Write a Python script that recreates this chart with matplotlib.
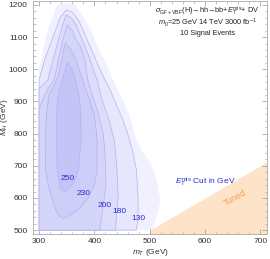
import numpy as np
import matplotlib.pyplot as plt
from matplotlib.ticker import MultipleLocator

plt.rcParams['font.family'] = ['Liberation Sans', 'DejaVu Sans']
plt.rcParams['mathtext.fontset'] = 'custom'
plt.rcParams['mathtext.rm'] = 'Liberation Sans'
plt.rcParams['mathtext.it'] = 'Liberation Sans:italic'
plt.rcParams['mathtext.bf'] = 'Liberation Sans:bold'

# region boundaries (m_T, M_H) in GeV, outermost first
edge_x = [333, 349, 365, 383, 396, 405, 416, 434, 452, 463, 474, 485, 501, 510, 515, 519, 515, 510, 505, 300, 300, 314, 324]
edge_y = [1200, 1206, 1200, 1153, 1113, 1069, 1035, 967, 900, 858, 789, 749, 708, 671, 634, 593, 556, 531, 500, 500, 998, 1113, 1160]

c130_x = [349, 360, 372, 380, 390, 400, 410, 419, 430, 436, 450, 462, 470, 476, 479, 479, 476, 300, 300, 310, 325, 338]
c130_y = [1184, 1178, 1150, 1120, 1080, 1040, 1000, 967, 930, 904, 850, 790, 740, 687, 600, 537, 500, 500, 967, 1029, 1100, 1160]

c180_x = [349, 358, 367, 378, 390, 398, 405, 414, 425, 436, 441, 443, 441, 438, 300, 300, 316, 325, 335, 343]
c180_y = [1169, 1160, 1138, 1091, 1040, 1000, 967, 904, 850, 780, 687, 600, 562, 500, 500, 940, 967, 1029, 1091, 1140]

c200_x = [351, 360, 367, 375, 383, 388, 396, 405, 416, 420, 421, 416, 410, 300, 300, 305, 316, 327, 335, 343]
c200_y = [1138, 1120, 1091, 1070, 1029, 967, 920, 873, 800, 720, 640, 580, 500, 500, 873, 900, 940, 967, 1029, 1091]

c230_x = [347, 358, 367, 374, 382, 392, 400, 405, 405, 400, 390, 375, 362, 350, 343, 335, 326, 318, 312, 311, 314, 318, 327, 334, 340]
c230_y = [1082, 1060, 1029, 990, 950, 900, 860, 780, 687, 640, 603, 570, 553, 540, 537, 545, 580, 630, 680, 780, 873, 920, 950, 975, 1020]

c250_x = [351, 360, 365, 372, 375, 376, 371, 362, 347, 338, 333, 331, 332, 336, 342]
c250_y = [1020, 1000, 967, 920, 873, 780, 687, 645, 618, 630, 687, 780, 873, 930, 967]

levels = ['130', '180', '200', '230', '250']
label_x = [479, 445, 419, 380, 352]
label_y = [537, 559, 578, 615, 659]

tuned_x = np.array([500, 720])

fig = plt.figure(figsize=(2.7, 2.59), dpi=100)
ax = fig.add_axes([0.1222, 0.0965, 0.8667, 0.8995])

fills = ['#f0f0fe', '#e6e6fc', '#dddcfb', '#d5d5fa', '#cdcdf8', '#c4c4f7']
polys = [(edge_x, edge_y), (c130_x, c130_y), (c180_x, c180_y), (c200_x, c200_y), (c230_x, c230_y), (c250_x, c250_y)]
for i, (px, py) in enumerate(polys):
    ax.fill(px, py, color=fills[i], lw=0, zorder=1 + i)
    if i > 0:
        ax.fill(px, py, facecolor='none', edgecolor='#b2b2f0', lw=0.5, zorder=1 + i)

for t, lx, ly in zip(levels, label_x, label_y):
    ax.text(lx, ly, t, color='#2a2ad0', fontsize=6, ha='center', va='center', zorder=10)

# tuned region below M_H = m_T
ax.fill_between(tuned_x, 480, tuned_x, color='#fde4c8', lw=0, zorder=1)
ax.text(655, 600, 'Tuned', color='#f0a050', fontsize=6.2, rotation=29, ha='center', va='center')
ax.text(600, 649, r'$E_T^{\rm mis}$ Cut in GeV', color='#2a2ad0', fontsize=6, ha='center', va='center')

ax.text(0.744, 0.955, r'$\sigma_{\rm GF+VBF}$(H)→hh→bb+$E_T^{\rm mis}$+ DV', transform=ax.transAxes,
        fontsize=5.3, ha='center', va='center', color='#222222')
ax.text(0.744, 0.905, r'$m_0$=25 GeV 14 TeV 3000 fb$^{-1}$', transform=ax.transAxes,
        fontsize=5.3, ha='center', va='center', color='#222222')
ax.text(0.744, 0.862, '10 Signal Events', transform=ax.transAxes,
        fontsize=5.3, ha='center', va='center', color='#222222')

ax.set_xlim(289, 712)
ax.set_ylim(488, 1212)
ax.xaxis.set_major_locator(MultipleLocator(100))
ax.xaxis.set_minor_locator(MultipleLocator(20))
ax.yaxis.set_major_locator(MultipleLocator(100))
ax.yaxis.set_minor_locator(MultipleLocator(20))
ax.tick_params(which='both', direction='in', top=True, right=True, colors='#999999',
               labelcolor='#333333', labelsize=6)
ax.tick_params(axis='x', pad=3)
ax.tick_params(axis='y', pad=4)
ax.tick_params(which='major', length=3.5, width=0.5)
ax.tick_params(which='minor', length=1.8, width=0.4)
for s in ax.spines.values():
    s.set_color('#aaaaaa')
    s.set_linewidth(0.6)

ax.set_xlabel(r'$m_T$ (GeV)', fontsize=6, color='#333333', labelpad=1)
ax.set_ylabel(r'$M_H$ (GeV)', fontsize=6, color='#333333', labelpad=0)
ax.yaxis.set_label_coords(-0.1, 0.5)

fig.savefig('out.png', dpi=100)
